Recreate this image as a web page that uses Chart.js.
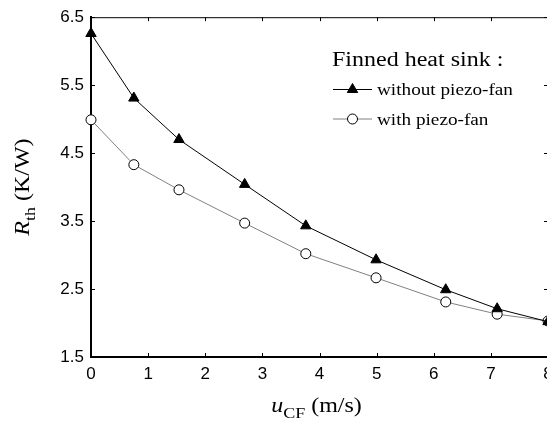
<!DOCTYPE html>
<html>
<head>
<meta charset="utf-8">
<script src="https://cdn.jsdelivr.net/npm/chart.js@4/dist/chart.umd.min.js"></script>
<style>
  html, body { margin: 0; padding: 0; background: #fff; overflow: hidden; }
  #wrap { width: 560px; height: 425px; position: relative; }
</style>
</head>
<body>
<div id="wrap"><canvas id="myChart"></canvas></div>
<script>
// air velocity u_CF (m/s)
var speeds = [0, 0.75, 1.54, 2.69, 3.76, 4.99, 6.21, 7.11, 8.0]
// thermal resistance R_th (K/W)
var withoutFan = [6.26, 5.31, 4.70, 4.04, 3.43, 2.93, 2.49, 2.21, 2.02]
var withFan = [4.99, 4.33, 3.96, 3.47, 3.02, 2.665, 2.31, 2.13, 2.03]

var xTicks = [0, 1, 2, 3, 4, 5, 6, 7, 8]
var yTicks = [1.5, 2.5, 3.5, 4.5, 5.5, 6.5]

var legendTitle = 'Finned heat sink :'
var legendLabels = ['without piezo-fan', 'with piezo-fan']

function toPoints(ys) {
  return speeds.map(function (x, i) { return { x: x, y: ys[i] } })
}

var SERIF = '"Liberation Serif", "Times New Roman", serif'
var STRETCH = 1.2

// draw a run of [text, size, italic, yOffset] pieces, stretched horizontally
function drawRuns(ctx, runs) {
  var x = 0
  runs.forEach(function (r) {
    ctx.font = (r[2] ? 'italic ' : '') + r[1] + 'px ' + SERIF
    ctx.save()
    ctx.scale(STRETCH, 1)
    ctx.fillText(r[0], x / STRETCH, r[3])
    ctx.restore()
    x += ctx.measureText(r[0]).width * STRETCH
  })
  return x
}
function runsWidth(ctx, runs) {
  var w = 0
  runs.forEach(function (r) {
    ctx.font = (r[2] ? 'italic ' : '') + r[1] + 'px ' + SERIF
    w += ctx.measureText(r[0]).width * STRETCH
  })
  return w
}

var framePlugin = {
  id: 'frame',
  afterDraw: function (chart) {
    var ctx = chart.ctx
    var a = chart.chartArea
    var xs = chart.scales.x, ys = chart.scales.y
    ctx.save()
    ctx.strokeStyle = '#000'
    ctx.lineWidth = 1
    ctx.beginPath()
    ctx.moveTo(a.left, a.top + 0.5); ctx.lineTo(a.right, a.top + 0.5)
    ctx.moveTo(a.right - 0.5, a.top); ctx.lineTo(a.right - 0.5, a.bottom)
    // inward ticks on all four sides
    xTicks.forEach(function (v) {
      var px = Math.round(xs.getPixelForValue(v)) + 0.5
      ctx.moveTo(px, a.bottom); ctx.lineTo(px, a.bottom - 4)
      ctx.moveTo(px, a.top); ctx.lineTo(px, a.top + 4)
    })
    yTicks.forEach(function (v) {
      var py = Math.round(ys.getPixelForValue(v)) + 0.5
      ctx.moveTo(a.left, py); ctx.lineTo(a.left + 4, py)
      ctx.moveTo(a.right, py); ctx.lineTo(a.right - 4, py)
    })
    ctx.stroke()

    ctx.fillStyle = '#000'
    ctx.textBaseline = 'alphabetic'
    ctx.textAlign = 'left'

    // x axis title
    var xr = [['u', 20, true, 0], ['CF', 15, false, 6], [' (m/s)', 20, false, 0]]
    var xw = runsWidth(ctx, xr)
    ctx.save()
    ctx.translate((a.left + a.right) / 2 - xw / 2 - 3, 412)
    drawRuns(ctx, xr)
    ctx.restore()

    // y axis title
    var yr = [['R', 20, true, 0], ['th', 15, false, 6], [' (K/W)', 20, false, 0]]
    var yw = runsWidth(ctx, yr)
    ctx.save()
    ctx.translate(29, (a.top + a.bottom) / 2 + yw / 2)
    ctx.rotate(-Math.PI / 2)
    drawRuns(ctx, yr)
    ctx.restore()

    // legend
    ctx.save()
    ctx.translate(332, 66)
    drawRuns(ctx, [[legendTitle, 20, false, 0]])
    ctx.restore()
    var rows = [89, 118.5]
    chart.data.datasets.forEach(function (ds, i) {
      var y = rows[i]
      ctx.strokeStyle = ds.borderColor
      ctx.lineWidth = 1
      ctx.beginPath()
      ctx.moveTo(333, y + 0.5); ctx.lineTo(372, y + 0.5)
      ctx.stroke()
      ctx.fillStyle = ds.pointBackgroundColor
      ctx.strokeStyle = ds.pointBorderColor
      ctx.lineWidth = 1
      Chart.helpers.drawPoint(ctx, {
        pointStyle: ds.pointStyle, radius: ds.pointRadius,
        borderWidth: 1, rotation: 0
      }, 352.5, y + 0.5)
      ctx.fillStyle = '#000'
      ctx.save()
      ctx.translate(377, y + 6)
      drawRuns(ctx, [[legendLabels[i], 16, false, 0]])
      ctx.restore()
    })
    ctx.restore()
  }
}

var myChart = document.getElementById('myChart').getContext('2d')

var chart = new Chart(myChart, {
  type: 'scatter',
  data: {
    datasets: [
      {
        label: legendLabels[0],
        data: toPoints(withoutFan),
        showLine: true,
        borderColor: '#000',
        borderWidth: 1,
        pointStyle: 'triangle',
        pointRadius: 6,
        pointBackgroundColor: '#000',
        pointBorderColor: '#000',
        pointBorderWidth: 1,
        clip: false
      },
      {
        label: legendLabels[1],
        data: toPoints(withFan),
        showLine: true,
        borderColor: '#808080',
        borderWidth: 1,
        pointStyle: 'circle',
        pointRadius: 5,
        pointBackgroundColor: '#fff',
        pointBorderColor: '#000',
        pointBorderWidth: 1,
        clip: false
      }
    ]
  },
  options: {
    responsive: true,
    maintainAspectRatio: false,
    animation: false,
    layout: { padding: { top: 15, right: 12, bottom: 0, left: 0 } },
    plugins: { legend: { display: false }, tooltip: { enabled: false } },
    scales: {
      x: {
        type: 'linear',
        min: 0,
        max: 8,
        afterBuildTicks: function (s) { s.ticks = xTicks.map(function (v) { return { value: v } }) },
        afterFit: function (s) { s.height = 68 },
        grid: { display: false, drawTicks: false },
        border: { display: true, color: '#000', width: 2 },
        ticks: {
          autoSkip: false, maxRotation: 0, padding: 7, color: '#000',
          font: { family: '"Liberation Sans", Arial, sans-serif', size: 17 }
        }
      },
      y: {
        type: 'linear',
        min: 1.5,
        max: 6.5,
        afterBuildTicks: function (s) { s.ticks = yTicks.map(function (v) { return { value: v } }) },
        afterFit: function (s) { s.width = 91 },
        grid: { display: false, drawTicks: false },
        border: { display: true, color: '#000', width: 2 },
        ticks: {
          padding: 7, color: '#000',
          font: { family: '"Liberation Sans", Arial, sans-serif', size: 17 },
          callback: function (v) { return Number(v).toFixed(1) }
        }
      }
    }
  },
  plugins: [framePlugin]
})
</script>
</body>
</html>
